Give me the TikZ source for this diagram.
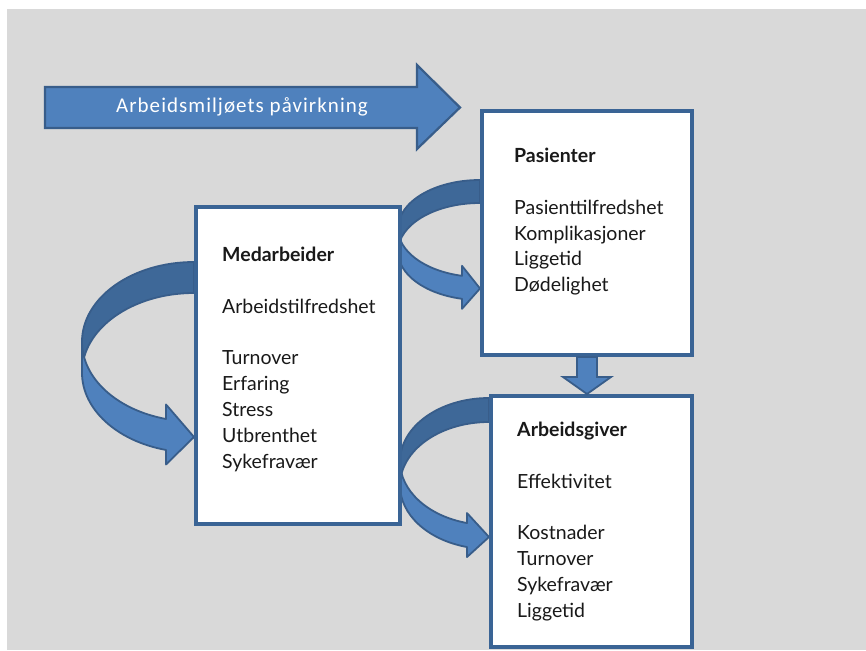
\documentclass[tikz,border=0pt]{standalone}
\usepackage{fontspec}
\setmainfont{Lato}
\newfontfamily\arrowfont[LetterSpace=5]{Carlito}
\definecolor{bgray}{HTML}{D9D9D9}
\definecolor{afill}{HTML}{4F81BD}
\definecolor{aback}{HTML}{3E6898}
\definecolor{aline}{HTML}{385D8A}
\definecolor{boxline}{HTML}{3A6495}
\tikzset{
  boxnode/.style={draw=boxline, fill=white, line width=4pt, rectangle, anchor=north west, inner sep=0pt},
  boxtext/.style={anchor=north west, inner sep=0pt, align=left, font=\fontsize{19.5}{25.8}\selectfont, text=black!90},
  frontband/.style={fill=afill, draw=aline, line width=1.8pt, line join=round},
  backband/.style={fill=aback, draw=aline, line width=1.8pt, line join=round},
  blockarrow/.style={fill=afill, draw=aline, line width=2.2pt, line join=miter}
}
% curved arrow: l t r b th aw ah  (screen pixel coordinates)
\newcommand{\curvarrow}[7]{%
  \pgfmathsetmacro{\cw}{#3-#1}%
  \pgfmathsetmacro{\ch}{#4-#2}%
  \pgfmathsetmacro{\chR}{\ch/2-(#5+#6)/4}%
  \pgfmathsetmacro{\cdy}{sqrt(\cw*\cw-#7*#7)*\chR/\cw}%
  \pgfmathsetmacro{\cpsi}{360-acos(-#7/\cw)}%
  \pgfmathsetmacro{\cyA}{#2+\chR}%
  \pgfmathsetmacro{\cyB}{#2+\chR+#5}%
  \pgfmathsetmacro{\cxa}{#3-#7}%
  \pgfmathsetmacro{\cdh}{(#6-#5)/2}%
  \pgfmathsetmacro{\cyfour}{\cyA+\cdy-\cdh}%
  \pgfmathsetmacro{\cyseven}{\cyB+\cdy}%
  \pgfmathsetmacro{\cyeight}{\cyB+\cdy+\cdh}%
  \pgfmathsetmacro{\cysix}{#4-#6/2}%
  \filldraw[backband] (#3,#2) arc[start angle=90,end angle=180,x radius=\cw pt,y radius=\chR pt]
     -- (#1,\cyB) arc[start angle=180,end angle=90,x radius=\cw pt,y radius=\chR pt] -- cycle;
  \filldraw[frontband] (#1,\cyA) arc[start angle=180,end angle=\cpsi,x radius=\cw pt,y radius=\chR pt]
     -- (\cxa,\cyfour) -- (#3,\cysix) -- (\cxa,\cyeight) -- (\cxa,\cyseven)
     arc[start angle=\cpsi,end angle=180,x radius=\cw pt,y radius=\chR pt] -- cycle;
}
\begin{document}
\begin{tikzpicture}[x=1pt,y=-1pt]
\useasboundingbox (0,0) rectangle (866,650);
\fill[white] (0,0) rectangle (866,650);
\fill[bgray] (6.5,9) rectangle (866,650);

% top block arrow
\filldraw[blockarrow] (45,87) -- (417,87) -- (417,65) -- (460,107.5) -- (417,149) -- (417,128) -- (45,128) -- cycle;
\node[text=white, font=\arrowfont\fontsize{21}{23}\selectfont, inner sep=0pt] (influence) at (242,107) {Arbeidsmiljøets påvirkning};

% curved arrows (drawn before boxes)
\curvarrow{82}{262}{194}{467}{31}{60}{28}
\curvarrow{398}{180}{480}{310}{23}{43}{18}
\curvarrow{400}{398}{489}{559}{24}{44}{22}

% boxes
\node[boxnode, minimum width=204pt, minimum height=317pt] (med) at (194,205) {};
\node[boxnode, minimum width=210pt, minimum height=244pt] (pas) at (480,109) {};
\node[boxnode, minimum width=201pt, minimum height=251pt] (arb) at (489,394) {};

% down arrow between Pasienter and Arbeidsgiver
\filldraw[blockarrow, line width=1.8pt] ([xshift=-10pt]pas.south) -- ([xshift=-10pt,yshift=-20pt]pas.south)
  -- ([xshift=-24pt,yshift=-20pt]pas.south) -- ([xshift=0pt]pas.south |- arb.north)
  -- ([xshift=24pt,yshift=-20pt]pas.south) -- ([xshift=10pt,yshift=-20pt]pas.south)
  -- ([xshift=10pt]pas.south) -- cycle;

% texts
\node[boxtext] (medtext) at (222,247) {\textbf{Medarbeider}\\ \\ Arbeidstilfredshet\\ \\ Turnover\\ Erfaring\\ Stress\\ Utbrenthet\\ Sykefravær};
\node[boxtext] (pastext) at (514,148) {\textbf{Pasienter}\\ \\ Pasienttilfredshet\\ Komplikasjoner\\ Liggetid\\ Dødelighet};
\node[boxtext] (arbtext) at (517,422) {\textbf{Arbeidsgiver}\\ \\ Effektivitet\\ \\ Kostnader\\ Turnover\\ Sykefravær\\ Liggetid};
\end{tikzpicture}
\end{document}
